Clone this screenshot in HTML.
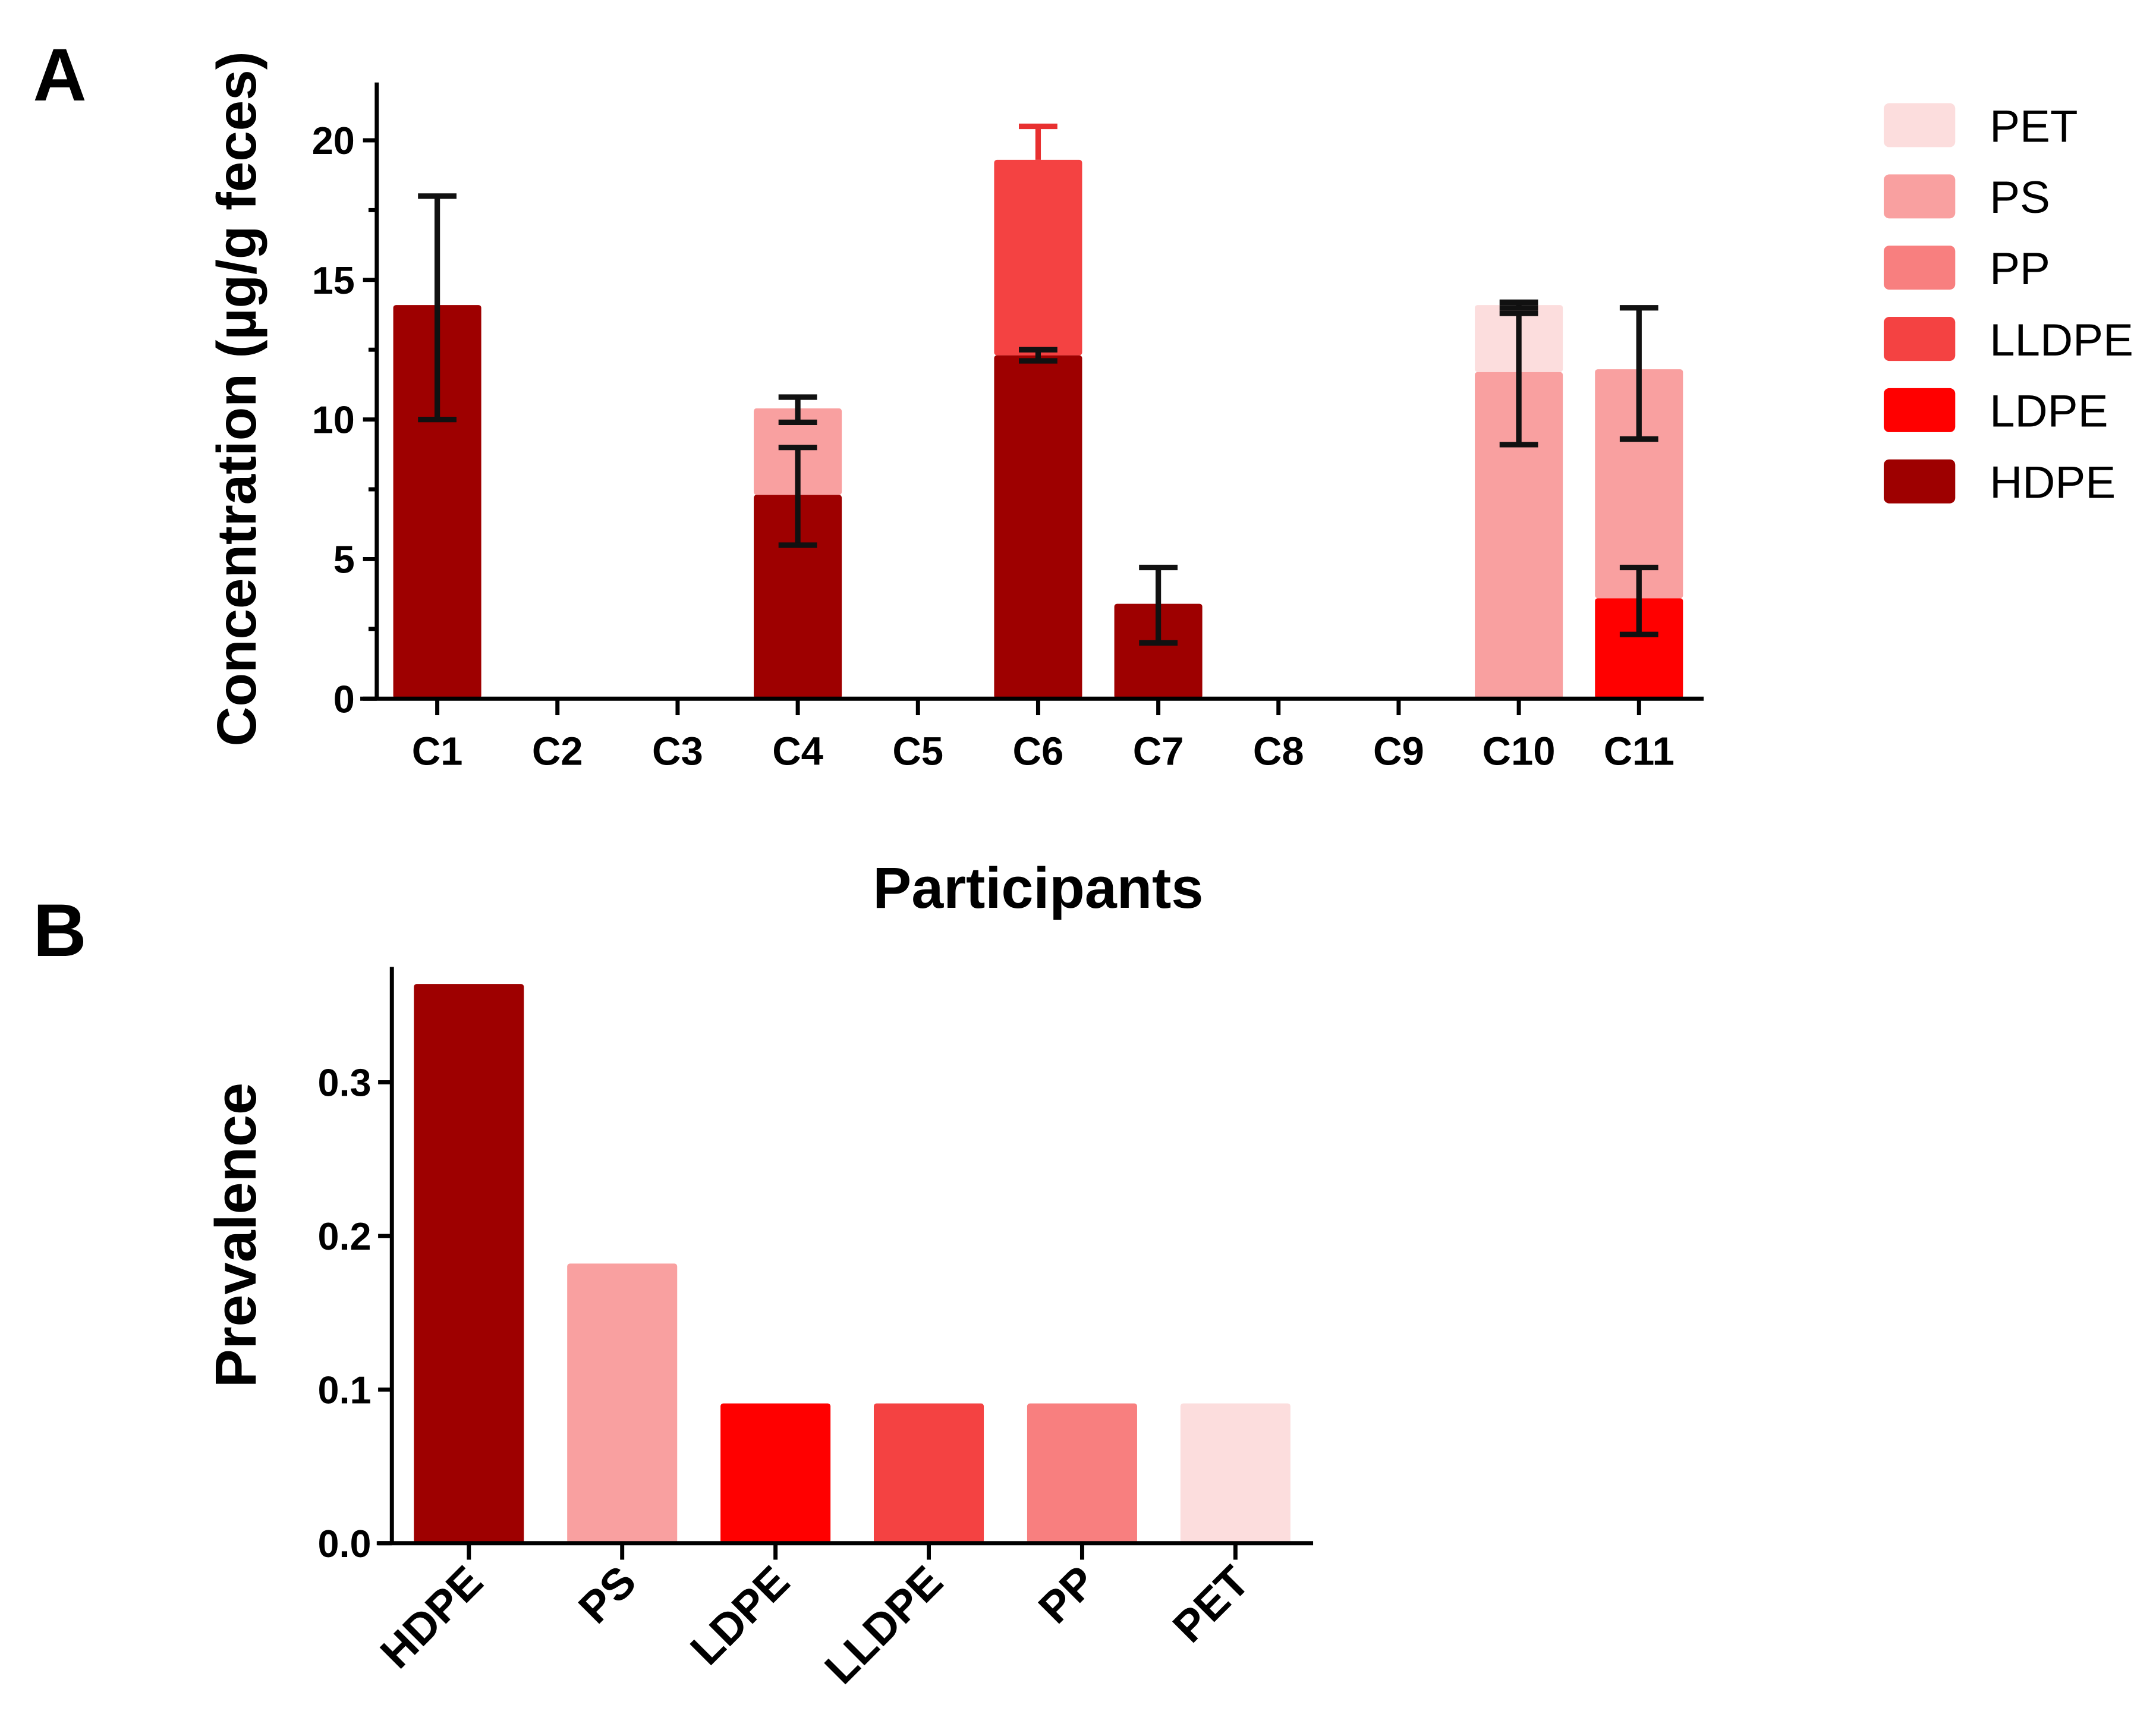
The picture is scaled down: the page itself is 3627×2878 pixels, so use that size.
<!DOCTYPE html>
<html><head><meta charset="utf-8"><style>
html,body{margin:0;padding:0;background:#fff;}
svg{display:block;}
text{font-family:"Liberation Sans",Arial,sans-serif;font-weight:bold;fill:#000;}
</style></head><body>
<svg id="chart" width="3627" height="2878" viewBox="0 0 1568 1244" preserveAspectRatio="none" xmlns="http://www.w3.org/2000/svg">
<rect width="1568" height="1244" fill="#fff"/>
<text x="24" y="73" font-size="54">A</text>
<text x="24" y="695" font-size="54">B</text>
<g id="pa"></g>
<g id="pb"></g>
</svg>
<script>
// ---- Panel A data ----
const participants = ["C1","C2","C3","C4","C5","C6","C7","C8","C9","C10","C11"];
const hdpe  = [14.1,0,0,7.3,0,12.3,3.4,0,0,0,0];
const ldpe  = [0,0,0,0,0,0,0,0,0,0,3.6];
const lldpe = [0,0,0,0,0,7.0,0,0,0,0,0];
const pp    = [0,0,0,0,0,0,0,0,0,0,0];
const ps    = [0,0,0,3.1,0,0,0,0,0,11.7,8.2];
const pet   = [0,0,0,0,0,0,0,0,0,2.4,0];
// error bars: [participant index, low, high]
const errLow  = [[0,10.0,18.0],[3,5.5,9.0],[3,9.9,10.8],[5,12.1,12.5],[5,19.3,20.5],[6,2.0,4.7],[9,9.1,13.8],[9,14.0,14.2],[10,2.3,4.7],[10,9.3,14.0]];
const yTicksA = [0,5,10,15,20];
const seriesNames = ["PET","PS","PP","LLDPE","LDPE","HDPE"];
// ---- Panel B data ----
const polymers = ["HDPE","PS","LDPE","LLDPE","PP","PET"];
const prevalence = [0.364,0.182,0.091,0.091,0.091,0.091];
const yTicksB = [0.0,0.1,0.2,0.3];

const colors = {HDPE:"#9e0000",LDPE:"#ff0000",LLDPE:"#f44242",PP:"#f87f7f",PS:"#f9a0a0",PET:"#fcdddd"};
const NS="http://www.w3.org/2000/svg";
function mk(parent,tag,attrs,txt){const e=document.createElementNS(NS,tag);for(const k in attrs)e.setAttribute(k,attrs[k]);if(txt!==undefined)e.textContent=txt;parent.appendChild(e);return e;}

// Panel A
const pa=document.getElementById('pa');
const yA=v=>508-v*20.3;
const xA=i=>318+i*87.4;
const bwA=64;
const stackOrder=[["HDPE",hdpe],["LDPE",ldpe],["LLDPE",lldpe],["PP",pp],["PS",ps],["PET",pet]];
participants.forEach((p,i)=>{
  let base=0;
  stackOrder.forEach(([n,arr])=>{
    const v=arr[i]; if(v<=0) return;
    const r=mk(pa,'rect',{x:xA(i)-bwA/2,y:yA(base+v),width:bwA,height:yA(base)-yA(base+v),fill:colors[n],rx:2});
    
    
    base+=v;
  });
});
errLow.forEach(([i,lo,hi],k)=>{
  const g=mk(pa,'g',{stroke:(i===5&&lo>19)?"#e83030":"#111","stroke-width":4});
  
  
  mk(g,'line',{x1:xA(i),x2:xA(i),y1:yA(lo),y2:yA(hi)});
  if(!(i===5&&lo>19)) mk(g,'line',{x1:xA(i)-14,x2:xA(i)+14,y1:yA(lo),y2:yA(lo)});
  mk(g,'line',{x1:xA(i)-14,x2:xA(i)+14,y1:yA(hi),y2:yA(hi)});
});
// axes A
const axA=mk(pa,'g',{stroke:"#000","stroke-width":3});


mk(axA,'line',{x1:274,x2:274,y1:60,y2:509});
mk(axA,'line',{x1:262,x2:1239,y1:508,y2:508});
for(let v=0;v<=22;v+=2.5){const big=v%5===0;mk(axA,'line',{x1:big?264:268,x2:274,y1:yA(v),y2:yA(v)});}
participants.forEach((p,i)=>{mk(axA,'line',{x1:xA(i),x2:xA(i),y1:508,y2:520});});
yTicksA.forEach(v=>{const t=mk(pa,'text',{x:258,y:yA(v)+10,'font-size':28,'text-anchor':'end'},String(v));
  });
participants.forEach((p,i)=>{const t=mk(pa,'text',{x:xA(i),y:556,'font-size':29,'text-anchor':'middle'},p);
  });
{const t=mk(pa,'text',{x:0,y:0,'font-size':40,'text-anchor':'middle',transform:'translate(186,290) rotate(-90)'},"Concentration (\u00b5g/g feces)");
 }
{const t=mk(pa,'text',{x:755,y:660,'font-size':42,'text-anchor':'middle'},"Participants");
 }
// legend
seriesNames.forEach((n,k)=>{
  const cy=91+k*51.8;
  const g=mk(pa,'g',{});
  
  
  mk(g,'rect',{x:1370,y:cy-16,width:52,height:32,fill:colors[n],rx:4});
  mk(g,'text',{x:1447,y:cy+12,'font-size':33,style:'font-weight:normal'},n);
});

// Panel B
const pb=document.getElementById('pb');
const yB=v=>1122-v*1117;
const xB=i=>341+i*111.5;
const bwB=80;
polymers.forEach((n,i)=>{
  const r=mk(pb,'rect',{x:xB(i)-bwB/2,y:yB(prevalence[i]),width:bwB,height:yB(0)-yB(prevalence[i]),fill:colors[n],rx:2});
  
  
});
const axB=mk(pb,'g',{stroke:"#000","stroke-width":3});


mk(axB,'line',{x1:285,x2:285,y1:703,y2:1123});
mk(axB,'line',{x1:274,x2:955,y1:1122,y2:1122});
yTicksB.forEach(v=>{mk(axB,'line',{x1:275,x2:285,y1:yB(v),y2:yB(v)});
  const t=mk(pb,'text',{x:270,y:yB(v)+10,'font-size':28,'text-anchor':'end'},v.toFixed(1));
  });
polymers.forEach((n,i)=>{mk(axB,'line',{x1:xB(i),x2:xB(i),y1:1122,y2:1134});
  const t=mk(pb,'text',{x:0,y:0,'font-size':32,'text-anchor':'end',transform:`translate(${xB(i)+12},${1152}) rotate(-45)`},n);
  });
{const t=mk(pb,'text',{x:0,y:0,'font-size':42,'text-anchor':'middle',transform:'translate(186,898) rotate(-90)'},"Prevalence");
 }
</script>
</body></html>
